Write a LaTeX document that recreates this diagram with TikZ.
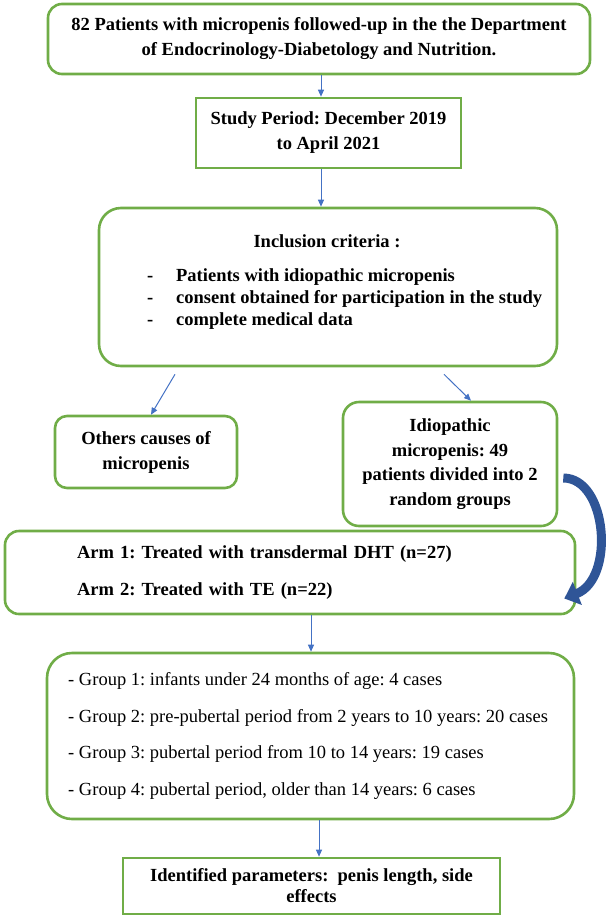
\documentclass[tikz,border=0pt]{standalone}
\usepackage{fontspec}
\setmainfont{Liberation Serif}
\usetikzlibrary{arrows.meta}
\frenchspacing

\definecolor{boxgreen}{RGB}{112,173,71}
\definecolor{linkblue}{RGB}{68,114,196}
\definecolor{curveblue}{RGB}{47,85,151}

\begin{document}
\begin{tikzpicture}[x=1pt, y=-1pt,
  box/.style={rectangle, draw=boxgreen, line width=2.6pt, align=center, inner sep=0pt,
    font=\fontsize{18.5}{25}\selectfont\bfseries},
  roundbox/.style={box, rounded corners=14pt},
  arrow/.style={-{Triangle[length=7pt,width=6pt]}, line width=1pt, linkblue},
  bigarrow/.style={-{Triangle[length=14pt,width=24pt]}, line width=9pt, curveblue}
]
  \useasboundingbox (0,0) rectangle (610,919);

  % Recruitment and study period
  \node[roundbox, minimum width=542pt, minimum height=70pt] (patients) at (319,39)
    {82 Patients with micropenis followed-up in the the Department\\of Endocrinology-Diabetology and Nutrition.};
  \node[box, minimum width=265pt, minimum height=70pt] (period) at (328.5,133)
    {Study Period: December 2019\\to April 2021};

  % Inclusion criteria
  \node[roundbox, rounded corners=22pt, minimum width=458pt, minimum height=158pt] (inclusion) at (328,287) {};
  \node[inner sep=0pt, font=\fontsize{18.5}{22}\selectfont\bfseries] (incltitle) at (327,241) {Inclusion criteria :};
  \node[anchor=west, align=left, inner sep=0pt, font=\fontsize{18.5}{22}\selectfont\bfseries] (incllist) at (147,299)
    {\makebox[29pt][l]{-}Patients with idiopathic micropenis\\
     \makebox[29pt][l]{-}consent obtained for participation in the study\\
     \makebox[29pt][l]{-}complete medical data};

  % Split of the patients
  \node[roundbox, rounded corners=12pt, minimum width=182pt, minimum height=72pt] (others) at (146,452)
    {Others causes of\\micropenis};
  \node[roundbox, rounded corners=16pt, minimum width=214pt, minimum height=124pt,
    font=\fontsize{18.5}{24.5}\selectfont\bfseries] (idiopathic) at (450,464)
    {Idiopathic\\micropenis: 49\\patients divided into 2\\random groups};

  % Treatment arms and age groups
  \node[roundbox, align=left, text width=426pt, inner xsep=72pt, minimum width=570pt, minimum height=83pt,
    font=\fontsize{18.5}{37}\selectfont\bfseries] (arm) at (290,572.5)
    {Arm 1: Treated with transdermal DHT (n=27)\\Arm 2: Treated with TE (n=22)};
  \node[roundbox, rounded corners=25pt, minimum width=527pt, minimum height=166pt] (groups) at (310.5,736) {};
  \node[anchor=west, align=left, inner sep=0pt, font=\fontsize{18.5}{36.5}\selectfont] (grouplist) at (68,736)
    {- Group 1: infants under 24 months of age: 4 cases\\
     - Group 2: pre-pubertal period from 2 years to 10 years: 20 cases\\
     - Group 3: pubertal period from 10 to 14 years: 19 cases\\
     - Group 4: pubertal period, older than 14 years: 6 cases};
  \node[box, minimum width=377pt, minimum height=56pt, font=\fontsize{18.5}{21}\selectfont\bfseries] (identified) at (311.5,886)
    {Identified parameters:~ penis length, side\\effects};

  % Connectors
  \draw[arrow] ([xshift=2pt]patients.south) -- ([xshift=-7.5pt]period.north);
  \draw[arrow] ([xshift=-7.5pt]period.south) -- ([xshift=-7pt]inclusion.north);
  \draw[arrow] ([xshift=-153pt,yshift=-7pt]inclusion.south) -- ([xshift=5pt]others.north);
  \draw[arrow] ([xshift=116pt,yshift=-7pt]inclusion.south) -- ([xshift=21pt]idiopathic.north);
  \draw[bigarrow] ([xshift=5pt,yshift=-14pt]idiopathic.east) .. controls +(44,0) and +(51,-20) .. ([xshift=-12pt,yshift=-26pt]arm.east);
  \draw[arrow] ([xshift=21pt]arm.south) -- ([xshift=0.5pt]groups.north);
  \draw[arrow] ([xshift=8.5pt]groups.south) -- ([xshift=7.5pt]identified.north);
\end{tikzpicture}
\end{document}
